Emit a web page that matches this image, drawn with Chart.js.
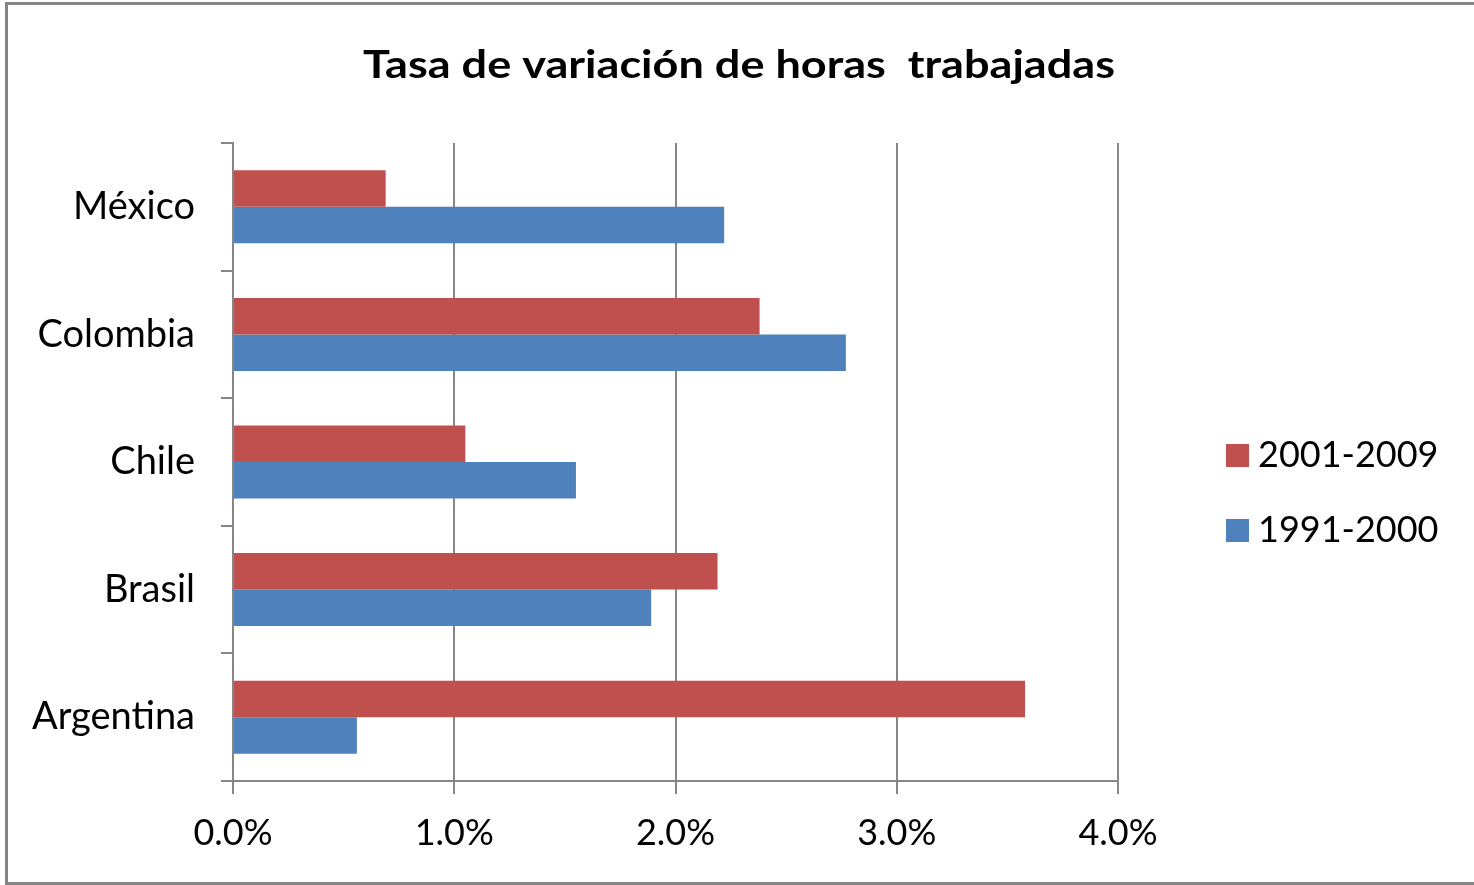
<!DOCTYPE html>
<html>
<head>
<meta charset="utf-8">
<script src="https://cdn.jsdelivr.net/npm/chart.js@4/dist/chart.umd.min.js"></script>
<style>
  html, body { margin: 0; padding: 0; background: #fff; }
  #wrap { width: 1474px; height: 885px; position: relative; }
</style>
</head>
<body>
<div id="wrap"><canvas id="c" width="1474" height="885"></canvas></div>
<script>
const categories = ['México', 'Colombia', 'Chile', 'Brasil', 'Argentina'];
const seriesNames = ['2001-2009', '1991-2000'];
const values2001_2009 = [0.69, 2.38, 1.05, 2.19, 3.58];
const values1991_2000 = [2.22, 2.77, 1.55, 1.89, 0.56];
const xTicks = [0, 1, 2, 3, 4];
const titleText = 'Tasa de variación de horas  trabajadas';

const RED = '#C0504D';
const BLUE = '#4F81BD';
const GRAY = '#868686';
const FONT = 'Lato, "Open Sans", sans-serif';

const decor = {
  id: 'decor',
  afterDraw(chart) {
    const ctx = chart.ctx;
    const ca = chart.chartArea;
    ctx.save();
    // outer frame
    ctx.strokeStyle = GRAY;
    ctx.lineWidth = 3;
    ctx.strokeRect(6.5, 3.5, chart.width + 10, chart.height - 5);
    // title (stretched horizontally to match the wide original)
    ctx.fillStyle = '#000';
    ctx.font = 'bold 39px ' + FONT;
    ctx.textAlign = 'center';
    ctx.textBaseline = 'alphabetic';
    const w = ctx.measureText(titleText).width;
    const sx = 752 / w;
    ctx.save();
    ctx.translate(739, 78);
    ctx.scale(sx, 1);
    ctx.fillText(titleText, 0, 0);
    ctx.restore();
    // legend
    const colors = [RED, BLUE];
    ctx.font = '36px ' + FONT;
    ctx.textAlign = 'left';
    const lx = ca.right + 108;
    const tops = [444, 519];
    seriesNames.forEach((name, i) => {
      ctx.fillStyle = colors[i];
      ctx.fillRect(lx, tops[i], 23, 23);
      ctx.fillStyle = '#000';
      ctx.fillText(name, lx + 32, tops[i] + 23);
    });
    ctx.restore();
  }
};

new Chart(document.getElementById('c'), {
  type: 'bar',
  data: {
    labels: categories,
    datasets: [
      { label: seriesNames[0], data: values2001_2009, backgroundColor: RED,
        categoryPercentage: 0.572, barPercentage: 1.0 },
      { label: seriesNames[1], data: values1991_2000, backgroundColor: BLUE,
        categoryPercentage: 0.572, barPercentage: 1.0 }
    ]
  },
  options: {
    indexAxis: 'y',
    responsive: false,
    animation: false,
    devicePixelRatio: 1,
    layout: { padding: { left: 0, top: 143, right: 356, bottom: 0 } },
    plugins: {
      legend: { display: false },
      title: { display: false },
      tooltip: { enabled: false }
    },
    scales: {
      x: {
        type: 'linear',
        min: xTicks[0],
        max: xTicks[xTicks.length - 1],
        afterBuildTicks(scale) { scale.ticks = xTicks.map(v => ({ value: v })); },
        afterFit(scale) { scale.height = 104; },
        ticks: {
          color: '#000',
          font: { family: FONT, size: 36 },
          padding: 18,
          maxRotation: 0,
          callback: v => Number(v).toFixed(1) + '%'
        },
        grid: { color: GRAY, lineWidth: 2, tickLength: 13, drawOnChartArea: true },
        border: { display: true, color: GRAY, width: 2 }
      },
      y: {
        afterFit(scale) { scale.width = 233; },
        ticks: {
          color: '#000',
          font: { family: FONT, size: 38 },
          padding: 26
        },
        grid: { color: GRAY, lineWidth: 2, tickLength: 12, drawOnChartArea: false, offset: true },
        border: { display: true, color: GRAY, width: 2 }
      }
    }
  },
  plugins: [decor]
});
</script>
</body>
</html>
